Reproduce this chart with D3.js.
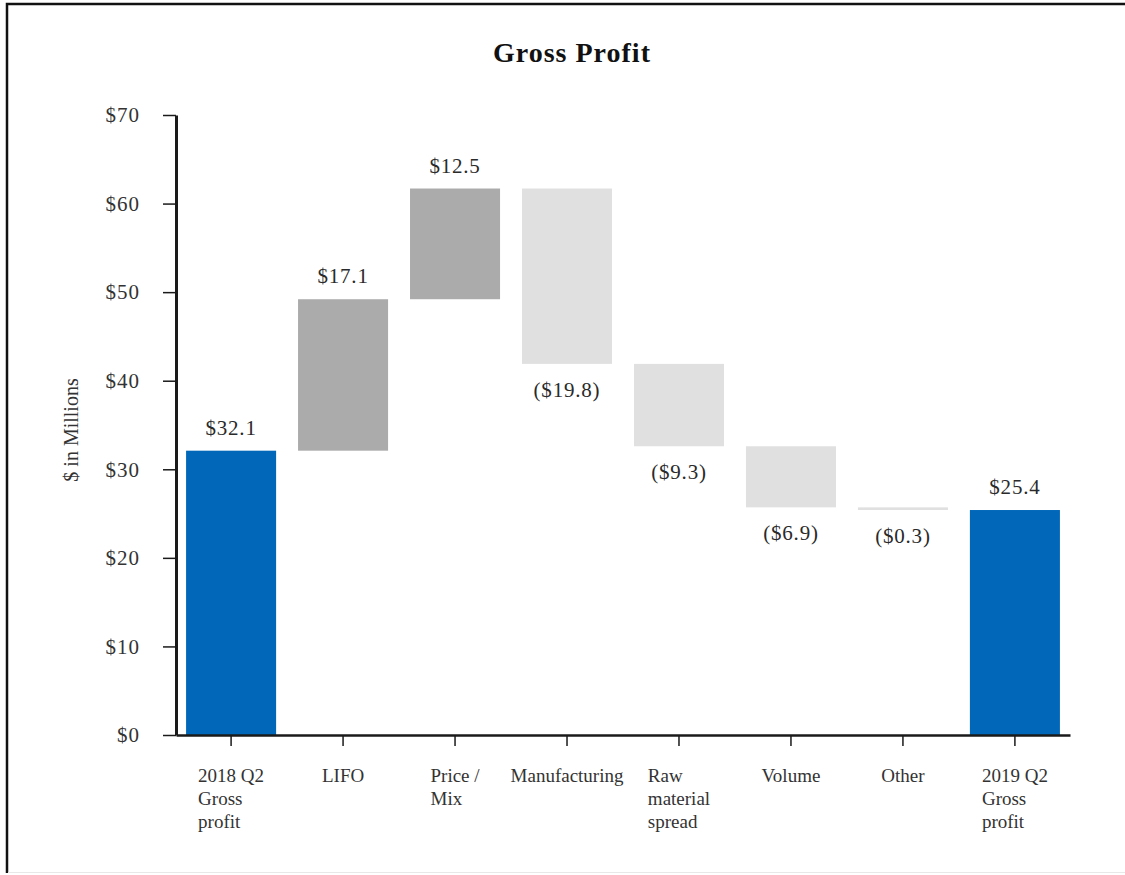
<!DOCTYPE html>
<html>
<head>
<meta charset="utf-8">
<script src="https://cdn.jsdelivr.net/npm/d3@7"></script>
<style>
  body { margin: 0; background: #fff; }
  svg { display: block; font-family: "Liberation Serif", "Times New Roman", serif; }
  .axis path, .axis line { stroke: #1a1a1a; }
  .axis text { fill: #333; }
</style>
</head>
<body>
<div id="chart"></div>
<script>
// waterfall data
const categories = [
  ["2018 Q2", "Gross", "profit"],
  ["LIFO"],
  ["Price /", "Mix"],
  ["Manufacturing"],
  ["Raw", "material", "spread"],
  ["Volume"],
  ["Other"],
  ["2019 Q2", "Gross", "profit"]
];
const changes = [32.1, 17.1, 12.5, -19.8, -9.3, -6.9, -0.3, 25.4];
const kinds = ["total", "up", "up", "down", "down", "down", "down", "total"];
const yTicks = [0, 10, 20, 30, 40, 50, 60, 70];

const width = 1125, height = 875;
const margin = {top: 115, left: 176, right: 55, bottom: 140};

const colors = {total: "#0067b9", up: "#ababab", down: "#e0e0e0"};

const svg = d3.select("#chart")
  .append("svg")
  .attr("width", width)
  .attr("height", height);

// frame
svg.append("path")
  .attr("d", `M7,${height - 2} L7,4 L${width},4`)
  .attr("fill", "none")
  .attr("stroke", "#111")
  .attr("stroke-width", 2.5);
svg.append("line")
  .attr("x1", 8).attr("x2", width)
  .attr("y1", 872.5).attr("y2", 872.5)
  .attr("stroke", "#e8e8e8");

// running totals
let running = 0;
const bars = changes.map(function(v, i) {
  let lo, hi;
  if (kinds[i] === "total") {
    lo = 0; hi = v; running = v;
  } else {
    const start = running;
    running = running + v;
    lo = Math.min(start, running);
    hi = Math.max(start, running);
  }
  return {i: i, value: v, kind: kinds[i], lo: lo, hi: hi};
});

const xScale = d3.scaleBand()
  .domain(d3.range(categories.length))
  .range([margin.left, width - margin.right])
  .paddingInner(0.196)
  .paddingOuter(0.09);

const yScale = d3.scaleLinear()
  .domain([0, 70])
  .range([height - margin.bottom, margin.top]);

// title
svg.append("text")
  .attr("x", 572)
  .attr("y", 62)
  .attr("text-anchor", "middle")
  .attr("font-size", 28)
  .attr("font-weight", "bold")
  .attr("letter-spacing", 1)
  .attr("fill", "#111")
  .text("Gross Profit");

// bars
svg.append("g")
  .selectAll("rect")
  .data(bars)
  .enter().append("rect")
    .attr("x", function(d) { return xScale(d.i); })
    .attr("width", xScale.bandwidth())
    .attr("y", function(d) { return yScale(d.hi); })
    .attr("height", function(d) { return Math.max(2.5, yScale(d.lo) - yScale(d.hi)); })
    .attr("fill", function(d) { return colors[d.kind]; });

// value labels
function fmt(v) {
  const s = "$" + d3.format(".1f")(Math.abs(v));
  return v < 0 ? "(" + s + ")" : s;
}
svg.append("g")
  .selectAll("text")
  .data(bars)
  .enter().append("text")
    .attr("x", function(d) { return xScale(d.i) + xScale.bandwidth() / 2; })
    .attr("y", function(d) { return d.value < 0 ? yScale(d.lo) + 33 : yScale(d.hi) - 16; })
    .attr("text-anchor", "middle")
    .attr("font-size", 21)
    .attr("letter-spacing", 0.8)
    .attr("fill", "#2a2a2a")
    .text(function(d) { return fmt(d.value); });

// y axis
const yAxis = svg.append("g")
  .attr("class", "axis")
  .attr("transform", `translate(${margin.left},0)`)
  .call(d3.axisLeft(yScale).tickValues(yTicks).tickSize(13).tickSizeOuter(0).tickPadding(23)
    .tickFormat(function(d) { return "$" + d; }));
yAxis.select(".domain").attr("stroke-width", 3);
yAxis.selectAll(".tick line").attr("stroke-width", 1.5);
yAxis.selectAll("text").attr("font-size", 21).attr("letter-spacing", 1).attr("font-family", "Liberation Serif");

// x axis
const xAxis = svg.append("g")
  .attr("class", "axis")
  .attr("transform", `translate(0,${height - margin.bottom})`)
  .call(d3.axisBottom(xScale).tickSize(11).tickSizeOuter(0).tickFormat(""));
xAxis.select(".domain").attr("stroke-width", 2.5);
xAxis.selectAll(".tick line").attr("stroke-width", 1.5);

xAxis.selectAll(".tick text").each(function(d) {
  const t = d3.select(this)
    .attr("y", 0).attr("dy", null)
    .attr("font-size", 19)
    .attr("font-family", "Liberation Serif")
    .attr("text-anchor", "start");
  const spans = categories[d].map(function(line, k) {
    return t.append("tspan").attr("y", 47 + k * 23).text(line);
  });
  const w = d3.max(spans, function(s) { return s.node().getComputedTextLength(); });
  spans.forEach(function(s) { s.attr("x", -w / 2); });
});

// y label
svg.append("text")
  .attr("transform", "rotate(-90)")
  .attr("x", -430)
  .attr("y", 78)
  .attr("text-anchor", "middle")
  .attr("font-size", 20)
  .attr("fill", "#333")
  .text("$ in Millions");
</script>
</body>
</html>
